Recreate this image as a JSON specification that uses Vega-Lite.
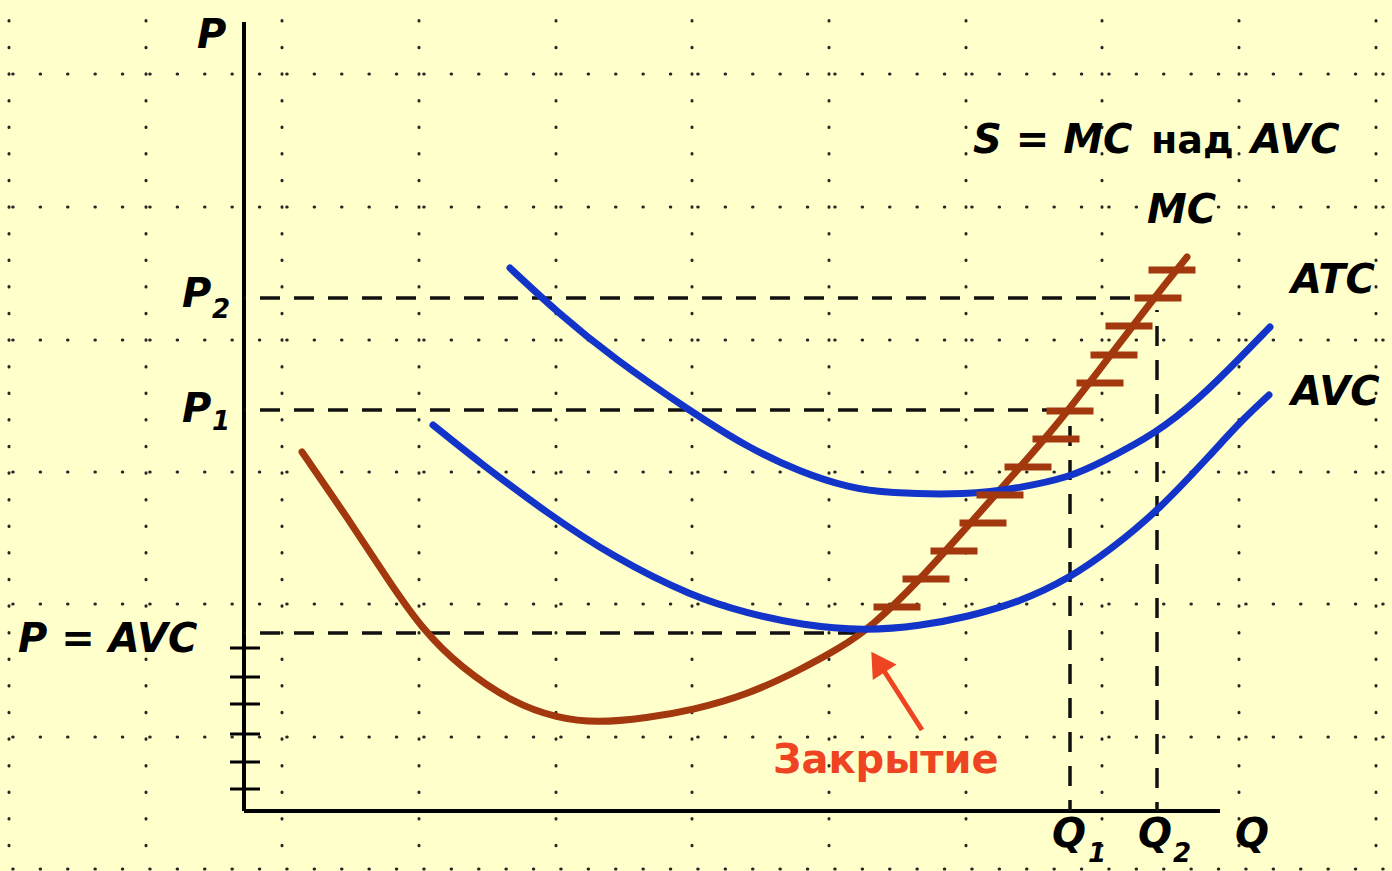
{
  "$schema": "https://vega.github.io/schema/vega-lite/v6.json",
  "width": 1392,
  "height": 871,
  "padding": 0,
  "autosize": {"type": "none"},
  "background": "#FFFFCC",
  "config": {"view": {"stroke": null}},
  "datasets": {
    "gridV": [
      {"q": -2.35}, {"q": -0.98}, {"q": 0.38}, {"q": 1.75}, {"q": 3.12}, {"q": 4.48},
      {"q": 5.85}, {"q": 7.22}, {"q": 8.58}, {"q": 9.95}, {"q": 11.32}
    ],
    "gridH": [
      {"p": -0.58}, {"p": 0.74}, {"p": 2.07}, {"p": 3.39}, {"p": 4.71}, {"p": 6.04}, {"p": 7.37}
    ],
    "axes": [
      {"q": 0, "p": 0, "q2": 0, "p2": 7.89},
      {"q": 0, "p": 0, "q2": 9.76, "p2": 0}
    ],
    "guides": [
      {"q": 0, "p": 5.13, "q2": 9.13, "p2": 5.13},
      {"q": 9.13, "p": 5.01, "q2": 9.13, "p2": 0},
      {"q": 0, "p": 4.01, "q2": 8.26, "p2": 4.01},
      {"q": 8.26, "p": 4.01, "q2": 8.26, "p2": 0},
      {"q": 0, "p": 1.78, "q2": 6.22, "p2": 1.78}
    ],
    "curves": [
      {"curve": "MC", "q": 0.58, "p": 3.59},
      {"curve": "MC", "q": 1.03, "p": 2.94},
      {"curve": "MC", "q": 1.46, "p": 2.28},
      {"curve": "MC", "q": 1.79, "p": 1.81},
      {"curve": "MC", "q": 2.16, "p": 1.44},
      {"curve": "MC", "q": 2.69, "p": 1.08},
      {"curve": "MC", "q": 3.13, "p": 0.93},
      {"curve": "MC", "q": 3.53, "p": 0.88},
      {"curve": "MC", "q": 4.03, "p": 0.93},
      {"curve": "MC", "q": 4.49, "p": 1.01},
      {"curve": "MC", "q": 5.03, "p": 1.16},
      {"curve": "MC", "q": 5.56, "p": 1.41},
      {"curve": "MC", "q": 5.96, "p": 1.63},
      {"curve": "MC", "q": 6.26, "p": 1.83},
      {"curve": "MC", "q": 6.76, "p": 2.31},
      {"curve": "MC", "q": 7.29, "p": 2.91},
      {"curve": "MC", "q": 7.69, "p": 3.36},
      {"curve": "MC", "q": 8.09, "p": 3.81},
      {"curve": "MC", "q": 8.56, "p": 4.42},
      {"curve": "MC", "q": 9.10, "p": 5.13},
      {"curve": "MC", "q": 9.43, "p": 5.54},
      {"curve": "ATC", "q": 2.66, "p": 5.43},
      {"curve": "ATC", "q": 3.13, "p": 4.99},
      {"curve": "ATC", "q": 3.69, "p": 4.53},
      {"curve": "ATC", "q": 4.49, "p": 3.98},
      {"curve": "ATC", "q": 5.03, "p": 3.64},
      {"curve": "ATC", "q": 5.56, "p": 3.39},
      {"curve": "ATC", "q": 6.06, "p": 3.23},
      {"curve": "ATC", "q": 6.43, "p": 3.18},
      {"curve": "ATC", "q": 7.23, "p": 3.16},
      {"curve": "ATC", "q": 7.76, "p": 3.23},
      {"curve": "ATC", "q": 8.26, "p": 3.34},
      {"curve": "ATC", "q": 8.56, "p": 3.48},
      {"curve": "ATC", "q": 9.13, "p": 3.78},
      {"curve": "ATC", "q": 9.56, "p": 4.13},
      {"curve": "ATC", "q": 9.96, "p": 4.53},
      {"curve": "ATC", "q": 10.26, "p": 4.84},
      {"curve": "AVC", "q": 1.89, "p": 3.86},
      {"curve": "AVC", "q": 2.36, "p": 3.48},
      {"curve": "AVC", "q": 3.03, "p": 2.98},
      {"curve": "AVC", "q": 3.69, "p": 2.54},
      {"curve": "AVC", "q": 4.49, "p": 2.14},
      {"curve": "AVC", "q": 5.03, "p": 1.98},
      {"curve": "AVC", "q": 5.56, "p": 1.86},
      {"curve": "AVC", "q": 6.22, "p": 1.80},
      {"curve": "AVC", "q": 6.76, "p": 1.85},
      {"curve": "AVC", "q": 7.23, "p": 1.94},
      {"curve": "AVC", "q": 7.76, "p": 2.09},
      {"curve": "AVC", "q": 8.26, "p": 2.33},
      {"curve": "AVC", "q": 8.66, "p": 2.61},
      {"curve": "AVC", "q": 9.13, "p": 2.99},
      {"curve": "AVC", "q": 9.69, "p": 3.59},
      {"curve": "AVC", "q": 9.96, "p": 3.89},
      {"curve": "AVC", "q": 10.25, "p": 4.16}
    ],
    "supplyTicks": [
      {"q": 6.53, "p": 2.04}, {"q": 6.82, "p": 2.32}, {"q": 7.10, "p": 2.60},
      {"q": 7.39, "p": 2.88}, {"q": 7.56, "p": 3.16}, {"q": 7.84, "p": 3.44},
      {"q": 8.12, "p": 3.72}, {"q": 8.26, "p": 4.00}, {"q": 8.56, "p": 4.28},
      {"q": 8.70, "p": 4.56}, {"q": 8.85, "p": 4.85}, {"q": 9.14, "p": 5.13},
      {"q": 9.28, "p": 5.41}
    ],
    "axisTicks": [
      {"q": 0.01, "p": 1.63}, {"q": 0.01, "p": 1.34}, {"q": 0.01, "p": 1.07},
      {"q": 0.01, "p": 0.77}, {"q": 0.01, "p": 0.49}, {"q": 0.01, "p": 0.22}
    ],
    "arrowLine": [
      {"q": 6.78, "p": 0.81, "q2": 6.35, "p2": 1.48}
    ],
    "arrowHead": [
      {"q": 6.34, "p": 1.49}
    ],
    "labelsItalic": [
      {"q": -0.47, "p": 7.63, "label": "P"},
      {"q": -0.62, "p": 5.04, "label": "P"},
      {"q": -0.62, "p": 3.89, "label": "P"},
      {"q": -2.26, "p": 1.59, "label": "P = AVC"},
      {"q": 7.29, "p": 6.58, "label": "S = MC"},
      {"q": 10.07, "p": 6.58, "label": "AVC"},
      {"q": 9.03, "p": 5.88, "label": "MC"},
      {"q": 10.47, "p": 5.18, "label": "ATC"},
      {"q": 10.47, "p": 4.06, "label": "AVC"},
      {"q": 8.08, "p": -0.36, "label": "Q"},
      {"q": 8.94, "p": -0.36, "label": "Q"},
      {"q": 9.91, "p": -0.36, "label": "Q"}
    ],
    "labelsSub": [
      {"q": -0.32, "p": 4.93, "label": "2"},
      {"q": -0.32, "p": 3.81, "label": "1"},
      {"q": 8.44, "p": -0.51, "label": "1"},
      {"q": 9.29, "p": -0.51, "label": "2"}
    ],
    "labelsUpright": [
      {"q": 9.07, "p": 6.58, "label": "над"}
    ],
    "labelsRed": [
      {"q": 5.29, "p": 0.38, "label": "Закрытие"}
    ]
  },
  "layer": [
    {
      "data": {"name": "gridV"},
      "mark": {"type": "rule", "color": "#262626", "strokeWidth": 3, "strokeCap": "round", "strokeDash": [0.5, 26.1], "strokeDashOffset": 6},
      "encoding": {
        "x": {"field": "q", "type": "quantitative", "axis": null, "scale": {"domain": [-2.44, 11.48], "nice": false, "zero": false}}
      }
    },
    {
      "data": {"name": "gridH"},
      "mark": {"type": "rule", "color": "#262626", "strokeWidth": 3, "strokeCap": "round", "strokeDash": [0.5, 26.9], "strokeDashOffset": 18.6},
      "encoding": {
        "y": {"field": "p", "type": "quantitative", "axis": null, "scale": {"domain": [-0.60, 8.11], "nice": false, "zero": false}}
      }
    },
    {
      "data": {"name": "axes"},
      "mark": {"type": "rule", "color": "#000000", "strokeWidth": 4},
      "encoding": {
        "x": {"field": "q", "type": "quantitative", "axis": null},
        "y": {"field": "p", "type": "quantitative", "axis": null},
        "x2": {"field": "q2"},
        "y2": {"field": "p2"}
      }
    },
    {
      "data": {"name": "guides"},
      "mark": {"type": "rule", "color": "#111111", "strokeWidth": 3.5, "strokeDash": [20, 14], "strokeDashOffset": 18},
      "encoding": {
        "x": {"field": "q", "type": "quantitative", "axis": null},
        "y": {"field": "p", "type": "quantitative", "axis": null},
        "x2": {"field": "q2"},
        "y2": {"field": "p2"}
      }
    },
    {
      "data": {"name": "axisTicks"},
      "mark": {"type": "tick", "orient": "horizontal", "color": "#000000", "size": 30, "thickness": 3, "opacity": 1},
      "encoding": {
        "x": {"field": "q", "type": "quantitative", "axis": null},
        "y": {"field": "p", "type": "quantitative", "axis": null}
      }
    },
    {
      "data": {"name": "curves"},
      "mark": {"type": "line", "interpolate": "basis", "strokeWidth": 7, "strokeCap": "round"},
      "encoding": {
        "x": {"field": "q", "type": "quantitative", "axis": null},
        "y": {"field": "p", "type": "quantitative", "axis": null},
        "color": {"field": "curve", "type": "nominal", "legend": null,
                  "scale": {"domain": ["MC", "ATC", "AVC"], "range": ["#A3380F", "#1234C8", "#1234C8"]}}
      }
    },
    {
      "data": {"name": "supplyTicks"},
      "mark": {"type": "tick", "orient": "horizontal", "color": "#A3380F", "size": 47, "thickness": 7, "opacity": 1},
      "encoding": {
        "x": {"field": "q", "type": "quantitative", "axis": null},
        "y": {"field": "p", "type": "quantitative", "axis": null}
      }
    },
    {
      "data": {"name": "arrowLine"},
      "mark": {"type": "rule", "color": "#EE4422", "strokeWidth": 5},
      "encoding": {
        "x": {"field": "q", "type": "quantitative", "axis": null},
        "y": {"field": "p", "type": "quantitative", "axis": null},
        "x2": {"field": "q2"},
        "y2": {"field": "p2"}
      }
    },
    {
      "data": {"name": "arrowHead"},
      "mark": {"type": "point", "shape": "triangle-up", "filled": true, "color": "#EE4422", "size": 800, "angle": 327, "opacity": 1},
      "encoding": {
        "x": {"field": "q", "type": "quantitative", "axis": null},
        "y": {"field": "p", "type": "quantitative", "axis": null}
      }
    },
    {
      "data": {"name": "labelsItalic"},
      "mark": {"type": "text", "align": "left", "baseline": "alphabetic", "font": "DejaVu Sans", "fontWeight": "bold", "fontStyle": "italic", "fontSize": 40, "color": "#000000"},
      "encoding": {
        "x": {"field": "q", "type": "quantitative", "axis": null},
        "y": {"field": "p", "type": "quantitative", "axis": null},
        "text": {"field": "label"}
      }
    },
    {
      "data": {"name": "labelsSub"},
      "mark": {"type": "text", "align": "left", "baseline": "alphabetic", "font": "DejaVu Sans", "fontWeight": "bold", "fontStyle": "italic", "fontSize": 26, "color": "#000000"},
      "encoding": {
        "x": {"field": "q", "type": "quantitative", "axis": null},
        "y": {"field": "p", "type": "quantitative", "axis": null},
        "text": {"field": "label"}
      }
    },
    {
      "data": {"name": "labelsUpright"},
      "mark": {"type": "text", "align": "left", "baseline": "alphabetic", "font": "DejaVu Sans", "fontWeight": "bold", "fontSize": 38, "color": "#000000"},
      "encoding": {
        "x": {"field": "q", "type": "quantitative", "axis": null},
        "y": {"field": "p", "type": "quantitative", "axis": null},
        "text": {"field": "label"}
      }
    },
    {
      "data": {"name": "labelsRed"},
      "mark": {"type": "text", "align": "left", "baseline": "alphabetic", "font": "DejaVu Sans", "fontWeight": "bold", "fontSize": 40, "color": "#EE4422"},
      "encoding": {
        "x": {"field": "q", "type": "quantitative", "axis": null},
        "y": {"field": "p", "type": "quantitative", "axis": null},
        "text": {"field": "label"}
      }
    }
  ]
}
